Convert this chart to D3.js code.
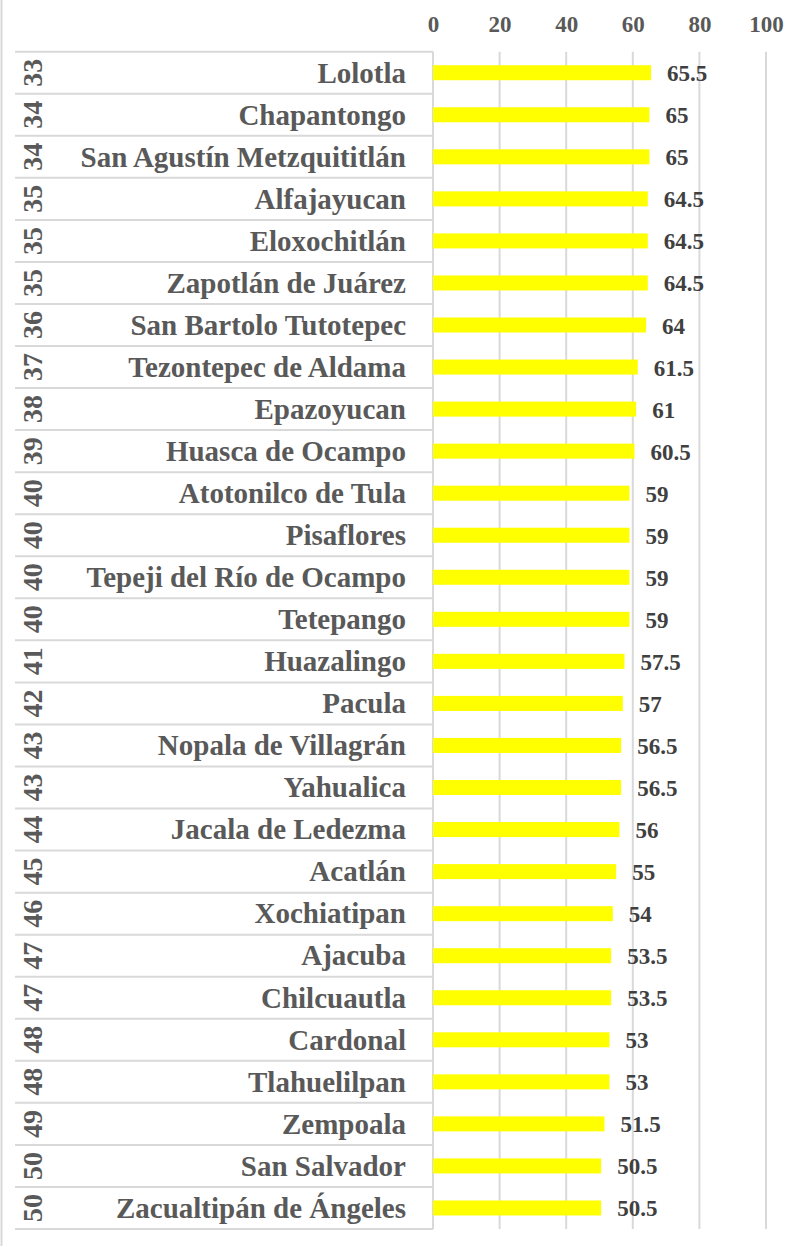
<!DOCTYPE html>
<html>
<head>
<meta charset="utf-8">
<script src="https://cdn.jsdelivr.net/npm/d3@7/dist/d3.min.js"></script>
<style>
  html, body { margin: 0; padding: 0; background: #ffffff; }
  svg { display: block; }
  text { font-family: "Liberation Serif", "Times New Roman", serif; font-weight: bold; }
</style>
</head>
<body>
<svg id="chart" width="807" height="1247"></svg>
<script>
const ranks = [33,34,34,35,35,35,36,37,38,39,40,40,40,40,41,42,43,43,44,45,46,47,47,48,48,49,50,50];
const categories = ["Lolotla","Chapantongo","San Agustín Metzquititlán","Alfajayucan","Eloxochitlán","Zapotlán de Juárez","San Bartolo Tutotepec","Tezontepec de Aldama","Epazoyucan","Huasca de Ocampo","Atotonilco de Tula","Pisaflores","Tepeji del Río de Ocampo","Tetepango","Huazalingo","Pacula","Nopala de Villagrán","Yahualica","Jacala de Ledezma","Acatlán","Xochiatipan","Ajacuba","Chilcuautla","Cardonal","Tlahuelilpan","Zempoala","San Salvador","Zacualtipán de Ángeles"];
const values = [65.5,65,65,64.5,64.5,64.5,64,61.5,61,60.5,59,59,59,59,57.5,57,56.5,56.5,56,55,54,53.5,53.5,53,53,51.5,50.5,50.5];
const tickValues = [0,20,40,60,80,100];

(function () {
const svg = d3.select("#chart");
const rows = categories.map((c, i) => ({ idx: i, name: c, rank: ranks[i], value: values[i] }));

const plotTop = 51.7, plotBottom = 1229;
const x = d3.scaleLinear().domain([0, 100]).range([433, 766]);
const y = d3.scaleBand().domain(d3.range(categories.length)).range([plotTop, plotBottom]).paddingInner(0).paddingOuter(0);
const bandH = y.bandwidth();
const barH = 15;

const grid = "#d9d9d9";

// outer frame (left)
svg.append("line").attr("x1", 1.5).attr("x2", 1.5).attr("y1", 0).attr("y2", 1246)
  .attr("stroke", grid).attr("stroke-width", 2);

// vertical gridlines
svg.append("g").selectAll("line").data(tickValues).join("line")
  .attr("x1", d => x(d)).attr("x2", d => x(d))
  .attr("y1", plotTop).attr("y2", plotBottom)
  .attr("stroke", grid).attr("stroke-width", 2);

// table horizontal lines
const bounds = d3.range(categories.length + 1).map(i => i < categories.length ? y(i) : plotBottom);
svg.append("g").selectAll("line").data(bounds).join("line")
  .attr("x1", 15).attr("x2", x(0))
  .attr("y1", d => d).attr("y2", d => d)
  .attr("stroke", grid).attr("stroke-width", 2);

// top axis tick labels
const axis = d3.axisTop(x).tickValues(tickValues).tickSize(0).tickPadding(0);
const ax = svg.append("g").attr("transform", "translate(0,32)").call(axis);
ax.select(".domain").remove();
ax.selectAll("text")
  .attr("font-family", "Liberation Serif, Times New Roman, serif")
  .attr("font-weight", "bold")
  .attr("font-size", 23)
  .attr("fill", "#595959")
  .attr("dy", 0)
  .attr("y", 0);

// bars
svg.append("g").selectAll("rect").data(rows).join("rect")
  .attr("x", x(0))
  .attr("y", d => y(d.idx) + bandH / 2 - barH / 2)
  .attr("width", d => x(d.value) - x(0))
  .attr("height", barH)
  .attr("fill", "#ffff00");

// value labels
svg.append("g").selectAll("text").data(rows).join("text")
  .attr("x", d => x(d.value) + 16)
  .attr("y", d => y(d.idx) + bandH / 2 + 8.5)
  .attr("font-size", 23)
  .attr("fill", "#404040")
  .text(d => d.value);

// category labels
svg.append("g").selectAll("text").data(rows).join("text")
  .attr("x", 406)
  .attr("y", d => y(d.idx) + bandH / 2 + 9.8)
  .attr("text-anchor", "end")
  .attr("font-size", 29)
  .attr("fill", "#595959")
  .text(d => d.name);

// rank labels (rotated)
svg.append("g").selectAll("text").data(rows).join("text")
  .attr("transform", d => `translate(${32.5 + 9.8},${y(d.idx) + bandH / 2}) rotate(-90)`)
  .attr("text-anchor", "middle")
  .attr("font-size", 28)
  .attr("fill", "#595959")
  .text(d => d.rank);
})();
</script>
</body>
</html>
